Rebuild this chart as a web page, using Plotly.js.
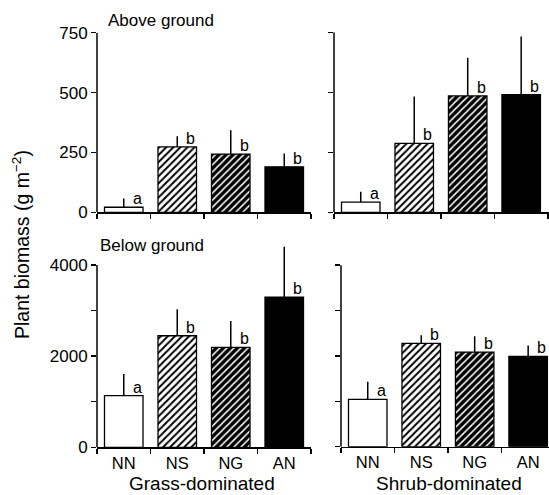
<!DOCTYPE html>
<html><head><meta charset="utf-8">
<script src="https://cdn.plot.ly/plotly-3.0.1.min.js"></script>
<style>html,body{margin:0;padding:0;background:#fff}#c{width:549px;height:495px}</style>
</head><body><div id="c"></div>
<script>
const categories = ["NN", "NS", "NG", "AN"];
const aboveGrass = [21, 273, 243, 190];
const aboveGrassErr = [37, 45, 100, 56];
const aboveShrub = [42, 287, 485, 490];
const aboveShrubErr = [44, 195, 159, 242];
const belowGrass = [1132, 2448, 2194, 3297];
const belowGrassErr = [476, 579, 577, 1104];
const belowShrub = [1044, 2276, 2085, 1990];
const belowShrubErr = [387, 183, 352, 242];
const letterAboveGrass = ["a", "b", "b", "b"];
const letterAboveShrub = ["a", "b", "b", "b"];
const letterBelowGrass = ["a", "b", "b", "b"];
const letterBelowShrub = ["a", "b", "b", "b"];
const groupLabels = ["Grass-dominated", "Shrub-dominated"];
const panelLabels = ["Above ground", "Below ground"];

const FONT = "Liberation Sans, Arial, sans-serif";
const patterns = [
  {shape: ""},
  {shape: "/", bgcolor: "#ffffff", fgcolor: "#000000", size: 5, solidity: 0.4, fillmode: "replace"},
  {shape: "/", bgcolor: "#000000", fgcolor: "#ffffff", size: 5, solidity: 0.3, fillmode: "replace"},
  {shape: ""}
];
const fills = ["#ffffff", "#ffffff", "#000000", "#000000"];

function panelTraces(vals, errs, xa, ya) {
  return categories.map((c, i) => ({
    type: "bar", x: [c], y: [vals[i]], xaxis: xa, yaxis: ya,
    width: 0.72, showlegend: false, hoverinfo: "skip",
    marker: {color: fills[i], line: {color: "#000", width: 1.3}, pattern: patterns[i]},
    error_y: {type: "data", symmetric: false, array: [errs[i]], arrayminus: [0],
      width: 0, thickness: 1.5, color: "#000"}
  }));
}

const data = [].concat(
  panelTraces(aboveGrass, aboveGrassErr, "x", "y"),
  panelTraces(aboveShrub, aboveShrubErr, "x2", "y2"),
  panelTraces(belowGrass, belowGrassErr, "x3", "y3"),
  panelTraces(belowShrub, belowShrubErr, "x4", "y4")
);

const W = 549, H = 495;
const px = v => v / W, py = v => 1 - v / H;

function xax(d0, d1, range, showLabels, anchor) {
  return {domain: [px(d0), px(d1)], anchor: anchor, type: "category",
    categoryorder: "array", categoryarray: categories, range: range,
    showline: true, linecolor: "#000", linewidth: 1.5, ticks: "outside",
    tickson: "boundaries", ticklen: 5, tickwidth: 1.5, tickcolor: "#000",
    showgrid: false, zeroline: false, showticklabels: showLabels,
    tickfont: {family: FONT, size: 16.5, color: "#000"}, fixedrange: true};
}
function yax(top, bottom, range, dtick, minor, showLabels, anchor) {
  const a = {domain: [py(bottom), py(top)], anchor: anchor, range: range,
    showline: false, ticks: "outside", ticklen: 5, tickwidth: 1.5, tickcolor: "#000",
    tick0: 0, dtick: dtick, showgrid: false, zeroline: false, showticklabels: showLabels,
    tickfont: {family: FONT, size: 17, color: "#000"}, fixedrange: true};
  if (minor) a.minor = {dtick: minor, tick0: 0, ticks: "outside", ticklen: 5, tickwidth: 1.5,
    tickcolor: "#000", showgrid: false};
  return a;
}

const layout = {
  width: W, height: H, margin: {l: 0, r: 0, t: 0, b: 0},
  paper_bgcolor: "#fff", plot_bgcolor: "rgba(0,0,0,0)",
  font: {family: FONT, color: "#000"}, showlegend: false,
  xaxis: xax(97, 311, [-0.5, 3.5], false, "y"),
  yaxis: yax(32.7, 212.3, [0, 750], 250, null, true, "x"),
  xaxis2: xax(334, 549, [-0.5, 3.52], false, "y2"),
  yaxis2: yax(32.3, 212.3, [0, 750], 250, null, false, "x2"),
  xaxis3: xax(97, 311, [-0.5, 3.5], true, "y3"),
  yaxis3: yax(244.5, 447.3, [0, 4450], 2000, 1000, true, "x3"),
  xaxis4: xax(341, 549, [-0.5, 3.39], true, "y4"),
  yaxis4: yax(244.8, 446.7, [0, 4450], 1000, null, false, "x4"),
  shapes: [
    {type: "line", xref: "x domain", yref: "y", x0: 0, x1: 0, y0: 0, y1: 750, line: {color: "#000", width: 1.5}},
    {type: "line", xref: "x2 domain", yref: "y2", x0: 0, x1: 0, y0: 0, y1: 750, line: {color: "#000", width: 1.5}},
    {type: "line", xref: "x3 domain", yref: "y3", x0: 0, x1: 0, y0: 0, y1: 4000, line: {color: "#000", width: 1.5}},
    {type: "line", xref: "x4 domain", yref: "y4", x0: 0, x1: 0, y0: 0, y1: 4000, line: {color: "#000", width: 1.5}}
  ],
  annotations: []
};

function letters(vals, lts, xa, ya) {
  categories.forEach((c, i) => {
    layout.annotations.push({xref: xa, yref: ya, x: i + 0.25, y: vals[i], text: lts[i],
      showarrow: false, xanchor: "center", yanchor: "bottom", yshift: -2,
      font: {family: FONT, size: 16, color: "#000"}});
  });
}
letters(aboveGrass, letterAboveGrass, "x", "y");
letters(aboveShrub, letterAboveShrub, "x2", "y2");
letters(belowGrass, letterBelowGrass, "x3", "y3");
letters(belowShrub, letterBelowShrub, "x4", "y4");

layout.annotations.push(
  {xref: "paper", yref: "paper", x: px(106), y: py(20), text: panelLabels[0], showarrow: false,
   xanchor: "left", yanchor: "middle", font: {family: FONT, size: 17, color: "#000"}},
  {xref: "paper", yref: "paper", x: px(98), y: py(245), text: panelLabels[1], showarrow: false,
   xanchor: "left", yanchor: "middle", font: {family: FONT, size: 17, color: "#000"}},
  {xref: "paper", yref: "paper", x: px(202), y: 0, text: groupLabels[0], showarrow: false,
   xanchor: "center", yanchor: "bottom", yshift: -1, font: {family: FONT, size: 19, color: "#000"}},
  {xref: "paper", yref: "paper", x: px(449), y: 0, text: groupLabels[1], showarrow: false,
   xanchor: "center", yanchor: "bottom", yshift: -1, font: {family: FONT, size: 19, color: "#000"}},
  {xref: "paper", yref: "paper", x: px(21), y: py(245), text: "Plant biomass (g m<sup>−2</sup>)",
   showarrow: false, textangle: -90, xanchor: "center", yanchor: "middle",
   font: {family: FONT, size: 19.5, color: "#000"}}
);

Plotly.newPlot("c", data, layout, {staticPlot: true, displayModeBar: false});
</script>
</body></html>
